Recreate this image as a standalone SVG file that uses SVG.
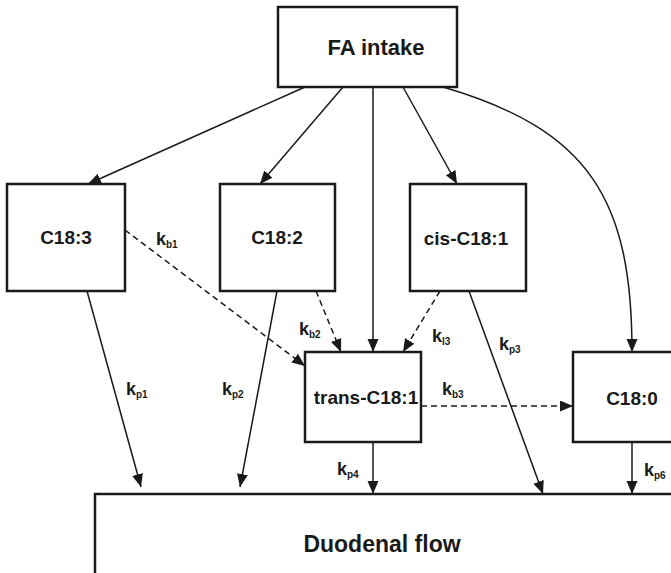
<svg xmlns="http://www.w3.org/2000/svg" width="671" height="573" viewBox="0 0 671 573">
<style>
.box{fill:#fff;stroke:#1a1a1a;stroke-width:2.5}
.t{font-family:"Liberation Sans",Arial,sans-serif;font-weight:bold;fill:#1a1a1a;text-anchor:middle}
.c{fill:none;stroke:#1a1a1a;stroke-width:1.5;marker-end:url(#ah)}
.d{stroke-dasharray:6,4}
.k{font-family:"Liberation Sans",Arial,sans-serif;font-weight:bold;fill:#1a1a1a;font-size:18px}
.s{font-size:10px}
</style>
<defs>
<marker id="ah" markerUnits="userSpaceOnUse" markerWidth="14" markerHeight="12" refX="13" refY="5.5" orient="auto">
<path d="M0,0 L13,5.5 L0,11 z" fill="#1a1a1a"/>
</marker>
</defs>
<g id="connectors">
<path class="c" d="M305,87 L88,184"/>
<path class="c" d="M343,87 L260,184"/>
<path class="c" d="M373,87 L373,352"/>
<path class="c" d="M403,87 L457,184"/>
<path class="c" d="M443,87 C590,130 632,200 632,352"/>
<path class="c" d="M87,291 L141,487"/>
<path class="c" d="M277,291 L240,487"/>
<path class="c d" d="M125,230 L305,366"/>
<path class="c d" d="M316,291 L341,352"/>
<path class="c d" d="M440,291 L403,352"/>
<path class="c" d="M469,291 L543,494"/>
<path class="c d" d="M421,406 L573,406"/>
<path class="c" d="M373,442 L373,494"/>
<path class="c" d="M632,442 L632,494"/>
</g>
<g id="fa-intake"><rect class="box" x="278" y="7" width="179" height="80"/><text class="t" x="376" y="55" font-size="22">FA intake</text></g>
<g id="c183"><rect class="box" x="7" y="184" width="118" height="107"/><text class="t" x="66" y="244" font-size="19">C18:3</text></g>
<g id="c182"><rect class="box" x="220" y="184" width="115" height="107"/><text class="t" x="277" y="244" font-size="19">C18:2</text></g>
<g id="cis-c181"><rect class="box" x="410" y="184" width="116" height="107"/><text class="t" x="466" y="245" font-size="19">cis-C18:1</text></g>
<g id="trans-c181"><rect class="box" x="305" y="352" width="116" height="90"/><text class="t" x="366" y="404" font-size="19">trans-C18:1</text></g>
<g id="c180"><rect class="box" x="573" y="352" width="120" height="90"/><text class="t" x="632" y="405" font-size="19">C18:0</text></g>
<g id="duodenal"><rect class="box" x="95" y="494" width="600" height="100"/><text class="t" x="382" y="552" font-size="23">Duodenal flow</text></g>
<g id="labels">
<text class="k" x="156" y="245">k<tspan class="s" dy="3">b1</tspan></text>
<text class="k" x="299" y="335">k<tspan class="s" dy="3">b2</tspan></text>
<text class="k" x="432" y="342">k<tspan class="s" dy="3">l3</tspan></text>
<text class="k" x="499" y="350">k<tspan class="s" dy="3">p3</tspan></text>
<text class="k" x="126" y="395">k<tspan class="s" dy="3">p1</tspan></text>
<text class="k" x="222" y="395">k<tspan class="s" dy="3">p2</tspan></text>
<text class="k" x="442" y="395">k<tspan class="s" dy="3">b3</tspan></text>
<text class="k" x="337" y="475">k<tspan class="s" dy="3">p4</tspan></text>
<text class="k" x="644" y="476">k<tspan class="s" dy="3">p6</tspan></text>
</g>
</svg>
